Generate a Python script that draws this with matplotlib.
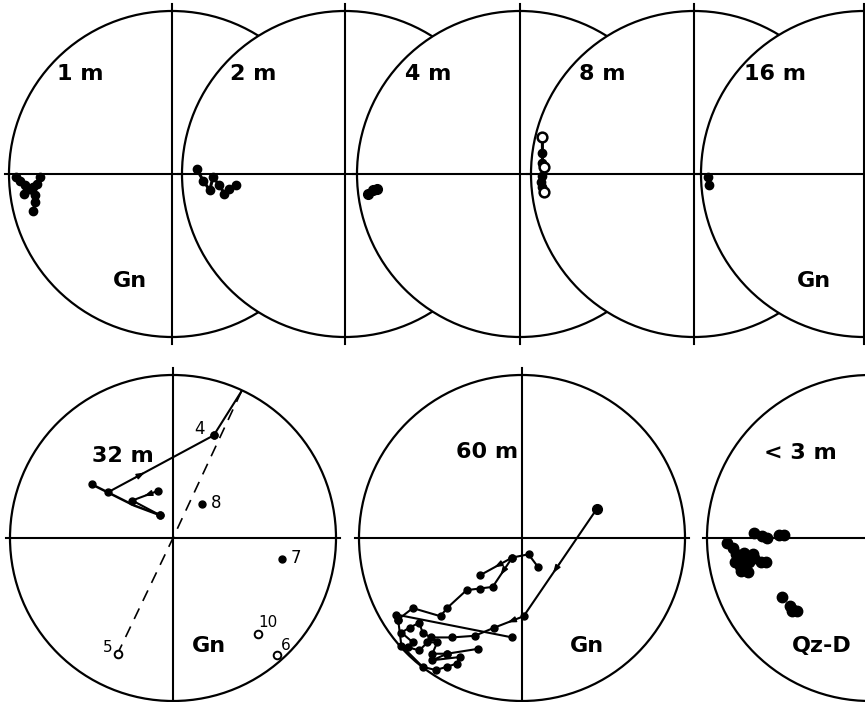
import matplotlib
matplotlib.use("Agg")
import matplotlib.pyplot as plt
from matplotlib.patches import Circle

net_1m = [(-0.96, -0.02), (-0.93, -0.04), (-0.90, -0.07), (-0.91, -0.12), (-0.87, -0.09),
          (-0.85, -0.08), (-0.83, -0.06), (-0.81, -0.02)]
net_1m_tail = [(-0.87, -0.09), (-0.84, -0.13), (-0.84, -0.17), (-0.85, -0.23)]
net_2m = [(-0.91, 0.03), (-0.87, -0.04), (-0.83, -0.10), (-0.81, -0.02), (-0.77, -0.07),
          (-0.74, -0.12), (-0.71, -0.09), (-0.67, -0.07)]
net_4m = [(-0.93, -0.12), (-0.90, -0.10), (-0.88, -0.09)]
net_8m = [(-0.93, 0.23), (-0.93, 0.13), (-0.93, 0.07), (-0.92, 0.04), (-0.93, -0.01),
          (-0.94, -0.05), (-0.93, -0.08), (-0.92, -0.11)]
net_8m_open = [(-0.93, 0.23), (-0.92, 0.04), (-0.92, -0.11)]
net_16m = [(-0.96, -0.02), (-0.95, -0.07)]

# 32 m
net_32m_main = [(0.42, 0.90), (0.25, 0.63), (-0.40, 0.28)]
net_32m_curve = [(-0.50, 0.33), (-0.40, 0.28), (-0.24, 0.20), (-0.08, 0.14)]
net_32m_back = [(-0.08, 0.14), (-0.25, 0.23), (-0.09, 0.29)]
net_32m_dash = [(0.42, 0.90), (0.0, 0.0), (-0.34, -0.71)]
net_32m_numbered = {"4": (0.25, 0.63), "8": (0.18, 0.21), "7": (0.67, -0.13)}
net_32m_open = {"10": (0.52, -0.59), "6": (0.64, -0.72), "5": (-0.34, -0.71)}

# 60 m
net_60m_main = [(0.46, 0.18), (0.01, -0.48), (-0.17, -0.55), (-0.29, -0.60), (-0.43, -0.61),
                (-0.56, -0.61), (-0.61, -0.58), (-0.63, -0.52), (-0.69, -0.55), (-0.74, -0.58),
                (-0.67, -0.64), (-0.70, -0.67), (-0.63, -0.69), (-0.58, -0.64), (-0.52, -0.64),
                (-0.55, -0.71), (-0.46, -0.71), (-0.27, -0.68)]
net_60m_upper = [(0.10, -0.18), (0.04, -0.10), (-0.06, -0.12), (-0.26, -0.23)]
net_60m_lower = [(-0.06, -0.12), (-0.18, -0.30), (-0.26, -0.31), (-0.34, -0.32), (-0.46, -0.43),
                 (-0.50, -0.48), (-0.67, -0.43), (-0.76, -0.50)]
net_60m_long = [(-0.77, -0.47), (-0.06, -0.61)]
net_60m_bottom = [(-0.76, -0.50), (-0.74, -0.66), (-0.61, -0.79), (-0.53, -0.81), (-0.46, -0.79),
                  (-0.40, -0.77), (-0.38, -0.73), (-0.55, -0.75), (-0.46, -0.71)]

# < 3 m
net_3m = [(-0.71, 0.03), (-0.66, 0.01), (-0.63, 0.0), (-0.56, 0.02), (-0.53, 0.02),
          (-0.88, -0.03), (-0.84, -0.06), (-0.82, -0.10), (-0.83, -0.15), (-0.80, -0.17),
          (-0.77, -0.18), (-0.74, -0.15), (-0.71, -0.12), (-0.67, -0.15), (-0.64, -0.15),
          (-0.75, -0.21), (-0.79, -0.20), (-0.81, -0.12), (-0.77, -0.09), (-0.72, -0.10),
          (-0.78, -0.13), (-0.54, -0.36), (-0.49, -0.42), (-0.47, -0.44), (-0.45, -0.45),
          (-0.48, -0.45)]

top_labels = ["1 m", "2 m", "4 m", "8 m", "16 m"]
bottom_labels = ["32 m", "60 m", "< 3 m"]
rock_labels = ["Gn", "Gn", "Qz-D"]

# ---- layout (pixels)
R = 163
TOP_Y, BOTTOM_Y = 174, 538
top_x = [172, 345, 520, 694, 864]
bottom_x = [173, 522, 870]

fig = plt.figure(figsize=(8.65, 7.02), dpi=100)
ax = fig.add_axes([0, 0, 1, 1])
ax.set_xlim(0, 865)
ax.set_ylim(702, 0)
ax.axis("off")

LABEL = dict(fontsize=16, fontweight="bold", ha="center", va="center", family="DejaVu Sans")


def px(pts, cx, cy):
    xs = [cx + R * e for e, n in pts]
    ys = [cy - R * n for e, n in pts]
    return xs, ys


def draw_net(cx, cy, z):
    ax.add_patch(Circle((cx, cy), R, facecolor="white", edgecolor="black", lw=1.6, zorder=z))
    ax.plot([cx - R - 4, cx + R + 4], [cy, cy], color="black", lw=1.5, zorder=z + 1)
    ax.plot([cx, cx], [cy - R - 7, cy + R + 7], color="black", lw=1.5, zorder=z + 1)


def path(pts, cx, cy, z, ms=5, lw=1.5, ls="-", marker="o"):
    xs, ys = px(pts, cx, cy)
    ax.plot(xs, ys, color="black", lw=lw, ls=ls, marker=marker, ms=ms,
            zorder=z + 2, solid_joinstyle="round")


def arrow(a, b, cx, cy, z, t=0.5):
    (x0, y0), (x1, y1) = (cx + R * a[0], cy - R * a[1]), (cx + R * b[0], cy - R * b[1])
    xs, xe = x0 + (t - 0.1) * (x1 - x0), x0 + t * (x1 - x0)
    ys, ye = y0 + (t - 0.1) * (y1 - y0), y0 + t * (y1 - y0)
    ax.annotate("", xy=(xe, ye), xytext=(xs, ys),
                arrowprops=dict(arrowstyle="-|>,head_length=0.7,head_width=0.25",
                                color="black", lw=1.0, mutation_scale=7,
                                shrinkA=0, shrinkB=0),
                zorder=z + 3)


# ---- top row: overlapping nets, each one covers the previous
top_data = [[net_1m, net_1m_tail], [net_2m], [net_4m], [net_8m], [net_16m]]
for i, (cx, lab) in enumerate(zip(top_x, top_labels)):
    z = 10 * (i + 1)
    draw_net(cx, TOP_Y, z)
    for pts in top_data[i]:
        path(pts, cx, TOP_Y, z, ms=6 if i != 2 else 7, lw=2.2)
    ax.text(cx - 92 + (3 if i == 4 else 0), TOP_Y - 100, lab, zorder=z + 4, **LABEL)
    if i in (0, 4):
        ax.text(cx - 42 + (-8 if i == 4 else 0), TOP_Y + 107, "Gn", zorder=z + 4, **LABEL)
xs, ys = px(net_8m_open, top_x[3], TOP_Y)
ax.plot(xs, ys, "o", ms=7, mfc="white", mec="black", mew=1.8, zorder=45)

# ---- bottom row
z = 100
cx = bottom_x[0]
draw_net(cx, BOTTOM_Y, z)
path(net_32m_main, cx, BOTTOM_Y, z, marker=None)
xs, ys = px(net_32m_main[1:], cx, BOTTOM_Y)
ax.plot(xs, ys, "o", color="black", ms=5, zorder=z + 3)
path(net_32m_curve, cx, BOTTOM_Y, z, marker=None, lw=1.8)
xs, ys = px([net_32m_curve[0], net_32m_curve[-1]], cx, BOTTOM_Y)
ax.plot(xs, ys, "o", color="black", ms=5, zorder=z + 3)
path(net_32m_back, cx, BOTTOM_Y, z)
arrow(net_32m_main[2], net_32m_main[1], cx, BOTTOM_Y, z, t=0.35)
arrow(net_32m_back[2], net_32m_back[1], cx, BOTTOM_Y, z, t=0.55)
path(net_32m_dash, cx, BOTTOM_Y, z, marker=None, lw=1.2, ls=(0, (7, 5)))
for name, (e, n) in net_32m_numbered.items():
    ax.plot(cx + R * e, BOTTOM_Y - R * n, "o", color="black", ms=5, zorder=z + 3)
    dx, dy = (-14, -6) if name == "4" else (14, -1)
    ax.text(cx + R * e + dx, BOTTOM_Y - R * n + dy, name, fontsize=12, ha="center",
            va="center", zorder=z + 4)
for name, (e, n) in net_32m_open.items():
    ax.plot(cx + R * e, BOTTOM_Y - R * n, "o", ms=5.5, mfc="white", mec="black", mew=1.4,
            zorder=z + 3)
    dx, dy = {"10": (10, -12), "6": (8, -10), "5": (-10, -6)}[name]
    ax.text(cx + R * e + dx, BOTTOM_Y - R * n + dy, name, fontsize=11, ha="center",
            va="center", zorder=z + 4)
ax.text(cx - 50, BOTTOM_Y - 82, bottom_labels[0], zorder=z + 4, **LABEL)
ax.text(cx + 36, BOTTOM_Y + 108, rock_labels[0], zorder=z + 4, **LABEL)

z = 200
cx = bottom_x[1]
draw_net(cx, BOTTOM_Y, z)
for pts in (net_60m_main, net_60m_upper, net_60m_lower, net_60m_long, net_60m_bottom):
    path(pts, cx, BOTTOM_Y, z, ms=5)
xs, ys = px(net_60m_main[:1], cx, BOTTOM_Y)
ax.plot(xs, ys, "o", color="black", ms=7, zorder=z + 3)
arrow(net_60m_main[0], net_60m_main[1], cx, BOTTOM_Y, z, t=0.6)
arrow(net_60m_main[1], net_60m_main[2], cx, BOTTOM_Y, z, t=0.55)
arrow(net_60m_upper[2], net_60m_upper[3], cx, BOTTOM_Y, z, t=0.55)
arrow(net_60m_lower[0], net_60m_lower[1], cx, BOTTOM_Y, z, t=0.6)
ax.text(cx - 35, BOTTOM_Y - 86, bottom_labels[1], zorder=z + 4, **LABEL)
ax.text(cx + 65, BOTTOM_Y + 108, rock_labels[1], zorder=z + 4, **LABEL)

z = 300
cx = bottom_x[2]
draw_net(cx, BOTTOM_Y, z)
xs, ys = px(net_3m, cx, BOTTOM_Y)
ax.plot(xs, ys, "o", color="black", ms=7.5, zorder=z + 3)
ax.text(cx - 70, BOTTOM_Y - 85, bottom_labels[2], zorder=z + 4, **LABEL)
ax.text(cx - 48, BOTTOM_Y + 108, rock_labels[2], zorder=z + 4, **LABEL)

fig.savefig("out.png", dpi=100)
